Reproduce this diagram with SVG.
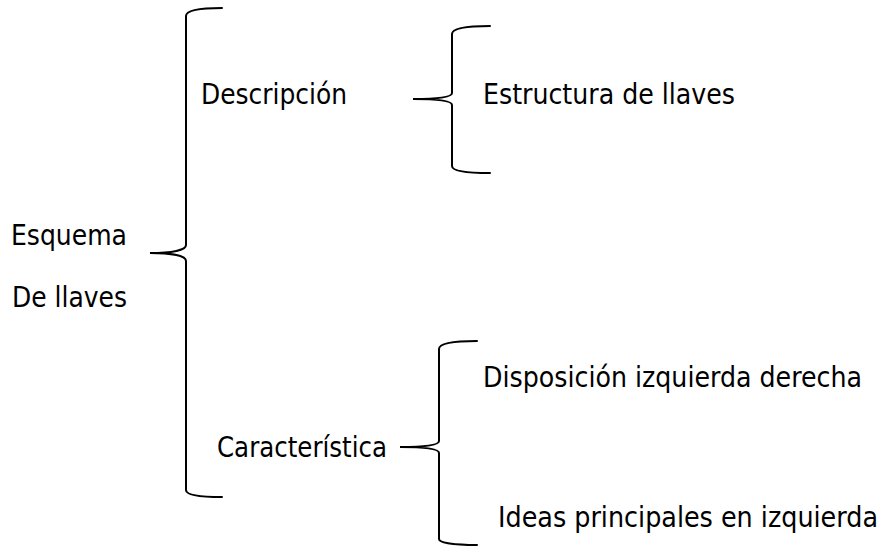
<svg xmlns="http://www.w3.org/2000/svg" width="887" height="550" viewBox="0 0 887 550">
<style>
.t{font-family:"DejaVu Sans Condensed","DejaVu Sans",Verdana,sans-serif;font-size:29px;fill:#000}
.b{fill:none;stroke:#000;stroke-width:2;stroke-linecap:round}
</style>
<rect width="887" height="550" fill="#fff"/>
<g id="connectors">
<path class="b" d="M222,8 C200,8 186,10 186,16 L186,245 C186,250 172,253 150,253 C172,253 186,256 186,261 L186,490 C186,495 200,497 222,497"/>
<path class="b" d="M490,26 C468,26 452,28 452,34 L452,93 C452,97 440,99 413,99 C440,99 452,101 452,105 L452,166 C452,171 468,173 490,173"/>
<path class="b" d="M477,341 C455,341 439,343 439,349 L439,441 C439,445 425,447 400,447 C425,447 439,449 439,453 L439,539 C439,543 455,545 477,545"/>
</g>
<g id="esquema"><text class="t" x="11" y="245" textLength="116" lengthAdjust="spacingAndGlyphs">Esquema</text>
<text class="t" x="12" y="307" textLength="115" lengthAdjust="spacingAndGlyphs">De llaves</text></g>
<g id="descripcion"><text class="t" x="201" y="104" textLength="146" lengthAdjust="spacingAndGlyphs">Descripción</text></g>
<g id="estructura"><text class="t" x="483" y="104" textLength="252" lengthAdjust="spacingAndGlyphs">Estructura de llaves</text></g>
<g id="caracteristica"><text class="t" x="217" y="457" textLength="170" lengthAdjust="spacingAndGlyphs">Característica</text></g>
<g id="disposicion"><text class="t" x="483" y="387" textLength="379" lengthAdjust="spacingAndGlyphs">Disposición izquierda derecha</text></g>
<g id="ideas"><text class="t" x="498" y="527" textLength="380" lengthAdjust="spacingAndGlyphs">Ideas principales en izquierda</text></g>
</svg>
